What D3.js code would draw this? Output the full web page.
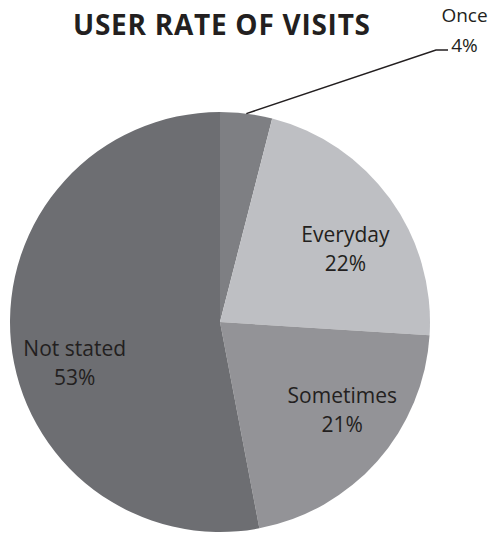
<!DOCTYPE html>
<html>
<head>
<meta charset="utf-8">
<script src="https://cdn.jsdelivr.net/npm/d3@7"></script>
<style>
  body { margin: 0; background: #fff; }
  text { font-family: "Open Sans", sans-serif; fill: #231f20; }
</style>
</head>
<body>
<div id="pieChart"></div>
<script>
var categories = ["Once", "Everyday", "Sometimes", "Not stated"],
    values = [4, 22, 21, 53],
    colors = ["#7e7f83", "#bebfc3", "#939397", "#6d6e72"];

var width = 491,
    height = 534,
    cx = 220,
    cy = 322,
    radius = 210;

// label nudges (Excel places these a bit off the centroid)
var nudge = {
    "Everyday": [0, 14],
    "Sometimes": [6, -18],
    "Not stated": [9, 23]
};

var svg = d3.select("#pieChart").append("svg")
    .attr("width", width)
    .attr("height", height);

svg.append("text")
    .attr("x", 221.5)
    .attr("y", 35)
    .attr("text-anchor", "middle")
    .attr("textLength", 297)
    .attr("lengthAdjust", "spacing")
    .style("font-size", "28px")
    .style("font-weight", "bold")
    .text("USER RATE OF VISITS");

var g = svg.append("g").attr("transform", "translate(" + cx + "," + cy + ")");

var pie = d3.pie()
    .sort(null)
    .value(function (d) { return d.value; });

var path = d3.arc()
    .outerRadius(radius)
    .innerRadius(0);

var label = d3.arc()
    .outerRadius(155)
    .innerRadius(155);

var edge = d3.arc()
    .outerRadius(radius)
    .innerRadius(radius);

var data = categories.map(function (c, i) { return { name: c, value: values[i], color: colors[i] }; });

var arc = g.selectAll(".arc")
    .data(pie(data))
    .enter().append("g")
    .attr("class", "arc");

arc.append("path")
    .attr("d", path)
    .attr("fill", function (d) { return d.data.color; });

arc.each(function (d) {
    var sel = d3.select(this);
    if (d.data.name == "Once") {
        var p = edge.centroid(d),
            elbow = [436 - cx, 50 - cy],
            end = [448 - cx, 50 - cy];
        sel.append("polyline")
            .attr("points", [p, elbow, end].map(function (q) { return q.join(","); }).join(" "))
            .attr("fill", "none")
            .attr("stroke", "#231f20")
            .attr("stroke-width", 1.5);
        var t = sel.append("text")
            .attr("transform", "translate(" + (464.5 - cx) + "," + (22 - cy) + ")")
            .attr("text-anchor", "middle")
            .style("font-size", "19px");
        t.append("tspan").attr("x", 0).attr("dy", 0).text(d.data.name);
        t.append("tspan").attr("x", 0).attr("dy", 30).text(d.data.value + "%");
        return;
    }
    var c = label.centroid(d),
        n = nudge[d.data.name] || [0, 0];
    var t = sel.append("text")
        .attr("transform", "translate(" + (c[0] + n[0]) + "," + (c[1] + n[1]) + ")")
        .attr("text-anchor", "middle")
        .style("font-size", "21px");
    t.append("tspan").attr("x", 0).attr("dy", "-0.15em").text(d.data.name);
    t.append("tspan").attr("x", 0).attr("dy", "1.38em").text(d.data.value + "%");
});
</script>
</body>
</html>
